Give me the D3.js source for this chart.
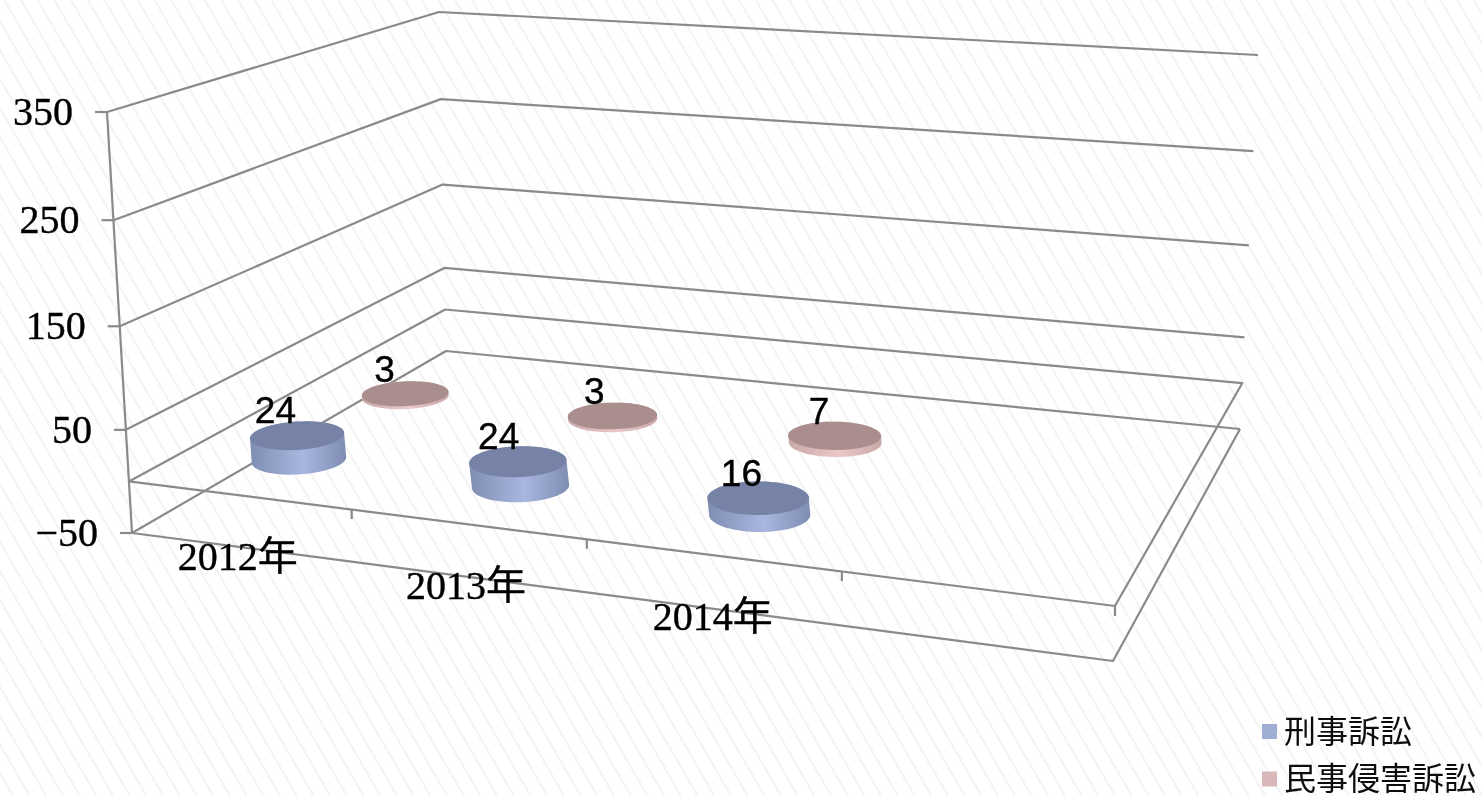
<!DOCTYPE html>
<html lang="ja"><head><meta charset="utf-8">
<style>html,body{margin:0;padding:0;background:#fff;overflow:hidden}svg{display:block}</style>
<script src="https://cdn.jsdelivr.net/npm/d3@7"></script></head>
<body><svg id="c" width="1482" height="796"></svg>
<script>
// ---- data ----
const categories = ["2012年", "2013年", "2014年", ""];
const seriesNames = ["刑事訴訟", "民事侵害訴訟", ""];
const criminal = [24, 24, 16];
const civil = [3, 3, 7];
const valueTicks = [-50, 50, 150, 250, 350];

// ---- styling ----
const serif = "'Liberation Serif','Noto Sans CJK JP',serif";
const lineColor = "#8a8a8a";
const looks = [
  {top:"#7783a6", edge:"#7f8db3", mid:"#a9b6e0", swatch:"#a0aed6"},
  {top:"#aa8e8e", edge:"#c9a8a8", mid:"#ecc8c8", swatch:"#d9b8ba"}
];

// ---- projection: plot box corners at the lowest and highest value level ----
const bottomQuad = [[132,533],[1113,661],[1240,429],[446,351]];
const topQuad    = [[107,112],[1129,212],[1258,55],[439,12]];
function homography(q){
  const [A,B,C,D]=q;
  const dx1=B[0]-C[0],dx2=D[0]-C[0],sx=A[0]-B[0]+C[0]-D[0];
  const dy1=B[1]-C[1],dy2=D[1]-C[1],sy=A[1]-B[1]+C[1]-D[1];
  const den=dx1*dy2-dx2*dy1;
  const g=(sx*dy2-dx2*sy)/den,h=(dx1*sy-sx*dy1)/den;
  const a=B[0]-A[0]+g*B[0],b=D[0]-A[0]+h*D[0],d=B[1]-A[1]+g*B[1],e=D[1]-A[1]+h*D[1];
  return (u,w)=>{const k=g*u+h*w+1;return [(a*u+b*w+A[0])/k,(d*u+e*w+A[1])/k];};
}
const hBottom=homography(bottomQuad),hTop=homography(topQuad);
const level=d3.scaleLinear().domain(valueTicks).range([0,.245,.491,.743,1]);
const uScale=d3.scaleBand().domain(d3.range(categories.length)).range([0,1]);
const wScale=d3.scaleBand().domain(d3.range(seriesNames.length)).range([0,1]);
const uMark=d3.scaleLinear().domain([0,1]).range([.002,1.014]);
function project(u,w,v){
  const p=hBottom(u,w),q=hTop(u,w),t=level(v);
  return [p[0]+(q[0]-p[0])*t,p[1]+(q[1]-p[1])*t];
}

const svg=d3.select("#c");
const defs=svg.append("defs");
defs.append("filter").attr("id","soft").attr("x",0).attr("y",0).attr("width",1).attr("height",1)
  .attr("filterUnits","objectBoundingBox")
  .append("feGaussianBlur").attr("stdDeviation",.45);

const root=svg.append("g");
root.append("rect").attr("width",1482).attr("height",796).attr("fill","#fff");
// background hatching
root.append("g").attr("stroke","#f4f4f4").attr("stroke-width",2.2)
  .selectAll("line").data(d3.range(-480,1482,16.7)).join("line")
  .attr("x1",d=>d).attr("y1",0).attr("x2",d=>d+796/Math.tan(Math.PI/3)).attr("y2",796);

const line=d3.line();
const grid=root.append("g").attr("fill","none").attr("stroke",lineColor).attr("stroke-width",2.2).attr("stroke-linejoin","round");

// walls: a polyline along left wall and back wall for each value tick
valueTicks.forEach(v=>{
  grid.append("path").attr("d",line([project(0,0,v),project(0,1,v),project(1,1,v)]));
  const p=project(0,0,v);
  grid.append("path").attr("d",line([[p[0]-12,p[1]],p]));
});
// vertical axis
grid.append("path").attr("d",line([project(0,0,350),project(0,0,-50)]));
// floors
grid.append("path").attr("d",line([project(1,1,-50),project(1,0,-50),project(0,0,-50)]));
grid.append("path").attr("d",line([project(0,1,0),project(0,0,0),project(1,0,0),project(1,1,0),project(0,1,0)]));
// category ticks
d3.range(1,categories.length+1).forEach(i=>{
  const p=project(i/categories.length,0,0);
  const dx=i===categories.length?0:5;
  grid.append("path").attr("d",line([[p[0]+dx,p[1]],[p[0]+dx,p[1]+10]]));
});

// value labels
root.append("g").selectAll("text").data(valueTicks).join("text")
  .attr("x",v=>project(0,0,v)[0]-34).attr("y",v=>project(0,0,v)[1])
  .attr("dy","0.33em").attr("text-anchor","end")
  .attr("font-family",serif).attr("font-size",40).attr("fill","#000")
  .attr("stroke","#000").attr("stroke-width",.4)
  .text(v=>d3.format("")(v).replace("-","\u2212"));

// category labels
root.append("g").selectAll("text").data(categories.filter(c=>c)).join("text")
  .attr("x",(c,i)=>project(uScale(i)+uScale.bandwidth()/2,0,0)[0]+2+2*i)
  .attr("y",(c,i)=>project(uScale(i)+uScale.bandwidth()/2,0,0)[1]+61)
  .attr("dy","0.35em").attr("text-anchor","middle")
  .attr("font-family",serif).attr("font-size",40).attr("fill","#000")
  .attr("stroke","#000").attr("stroke-width",.4).text(c=>c);

// cylinders
const RU=.0485,RW=.068;
function ring(uc,wc,v){
  return d3.range(72).map(k=>{const a=k/72*2*Math.PI;return project(uc+RU*Math.cos(a),wc+RW*Math.sin(a),v);});
}
[criminal,civil].forEach((vals,s)=>{
  const g=defs.append("linearGradient").attr("id","side"+s);
  g.append("stop").attr("offset","0").attr("stop-color",looks[s].edge);
  g.append("stop").attr("offset",".55").attr("stop-color",looks[s].mid);
  g.append("stop").attr("offset","1").attr("stop-color",looks[s].edge);
});
const marks=[];
[civil,criminal].forEach((vals,r)=>{
  const s=1-r;
  vals.forEach((v,i)=>marks.push({s,i,v}));
});
const cyl=root.append("g");
marks.forEach(m=>{
  const uc=uMark(uScale(m.i)+uScale.bandwidth()/2),wc=wScale(m.s)+wScale.bandwidth()/2;
  const base=ring(uc,wc,0),top=ring(uc,wc,m.v);
  cyl.append("path").attr("d",line(d3.polygonHull(base.concat(top)))+"Z").attr("fill",`url(#side${m.s})`);
  cyl.append("path").attr("d",line(top)+"Z").attr("fill",looks[m.s].top);
});
// data labels
const labels=root.append("g");
marks.forEach(m=>{
  const uc=uMark(uScale(m.i)+uScale.bandwidth()/2),wc=wScale(m.s)+wScale.bandwidth()/2;
  const p=project(uc,wc,m.v);
  labels.append("text").attr("x",p[0]-24+10*uc+3*m.s+(m.s?-1:1)).attr("y",p[1]-25)
    .attr("dy","0.35em").attr("text-anchor","middle")
    .attr("font-family","'Liberation Sans',sans-serif").attr("font-size",37).attr("fill","#000")
    .attr("stroke","#000").attr("stroke-width",.4).text(m.v);
});

// legend
const lg=root.append("g");
seriesNames.filter(n=>n).forEach((n,i)=>{
  const y=724+i*47.5;
  lg.append("rect").attr("x",1262).attr("y",y).attr("width",15).attr("height",15).attr("fill",looks[i].swatch);
  lg.append("text").attr("x",1284).attr("y",y+7).attr("dy","0.36em")
    .attr("font-family",serif).attr("font-size",32).attr("fill","#111").text(n);
});
root.attr("filter","url(#soft)");
</script></body></html>
